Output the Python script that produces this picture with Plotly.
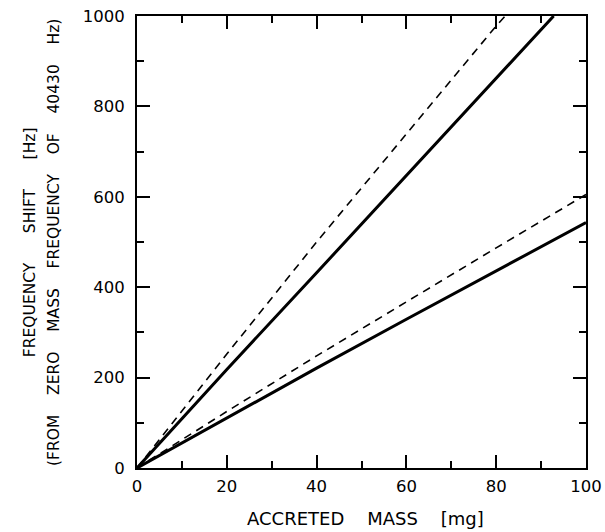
import plotly.graph_objects as go

# Data
mass_upper_solid = [0, 20, 40, 60, 80, 92.8]
shift_upper_solid = [0, 218, 432, 648, 862, 1000]

mass_upper_dashed = [0, 20, 40, 60, 80, 82]
shift_upper_dashed = [0, 252, 500, 740, 978, 1000]

mass_lower_solid = [0, 20, 40, 60, 80, 100]
shift_lower_solid = [0, 111, 221, 329, 436, 543]

mass_lower_dashed = [0, 20, 40, 60, 80, 100]
shift_lower_dashed = [0, 125, 248, 368, 487, 605]

x_ticks = [0, 20, 40, 60, 80, 100]
y_ticks = [0, 200, 400, 600, 800, 1000]

FONT = "DejaVu Sans"


def gap(n):
    return "&nbsp;" * (n - 1) + " "


fig = go.Figure()
for xs, ys, dash, w in [
    (mass_upper_dashed, shift_upper_dashed, "8px,6px", 1.6),
    (mass_lower_dashed, shift_lower_dashed, "8px,6px", 1.6),
    (mass_upper_solid, shift_upper_solid, "solid", 3),
    (mass_lower_solid, shift_lower_solid, "solid", 3),
]:
    fig.add_trace(go.Scatter(x=xs, y=ys, mode="lines",
                             line=dict(color="black", width=w, dash=dash),
                             showlegend=False, hoverinfo="skip"))

axis_common = dict(
    showgrid=False, zeroline=False, showline=True, linecolor="black",
    linewidth=2, mirror="ticks", ticks="inside", ticklen=13, tickwidth=2,
    tickcolor="black", tickfont=dict(family=FONT, size=16.5, color="black"),
    automargin=False,
)

fig.update_xaxes(range=[0, 100], tickvals=x_ticks,
                 ticktext=[str(v) for v in x_ticks],
                 minor=dict(ticks="inside", dtick=10, ticklen=7,
                            tickwidth=1.5, tickcolor="black"),
                 ticklabelstandoff=2,
                 **axis_common)
fig.update_yaxes(range=[0, 1000], tickvals=y_ticks,
                 ticktext=[str(v) for v in y_ticks],
                 minor=dict(ticks="inside", dtick=100, ticklen=7,
                            tickwidth=1.5, tickcolor="black"),
                 ticklabelstandoff=7,
                 **axis_common)

fig.add_annotation(text="ACCRETED" + gap(4) + "MASS" + gap(4) + "[mg]",
                   xref="paper", yref="paper", x=0.51, y=-0.112,
                   xanchor="center", yanchor="middle",
                   showarrow=False,
                   font=dict(family=FONT, size=18, color="black"))
fig.add_annotation(text="FREQUENCY" + gap(6) + "SHIFT" + gap(6) + "[Hz]",
                   xref="paper", yref="paper", x=-0.238, y=0.5,
                   xanchor="center", yanchor="middle", textangle=-90,
                   showarrow=False,
                   font=dict(family=FONT, size=15.5, color="black"))
g2 = gap(4)
fig.add_annotation(text="(FROM" + g2 + "ZERO" + g2 + "MASS" + g2 + "FREQUENCY" + g2
                   + "OF" + g2 + "40430" + g2 + "Hz)",
                   xref="paper", yref="paper", x=-0.185, y=0.5,
                   xanchor="center", yanchor="middle", textangle=-90,
                   showarrow=False,
                   font=dict(family=FONT, size=15.5, color="black"))

fig.update_layout(
    width=605, height=532,
    margin=dict(l=137, r=19, t=16, b=64),
    paper_bgcolor="white", plot_bgcolor="white",
)

fig.write_html("out.html",
               config={"displayModeBar": False},
               post_script="document.body.style.margin='0px';")
